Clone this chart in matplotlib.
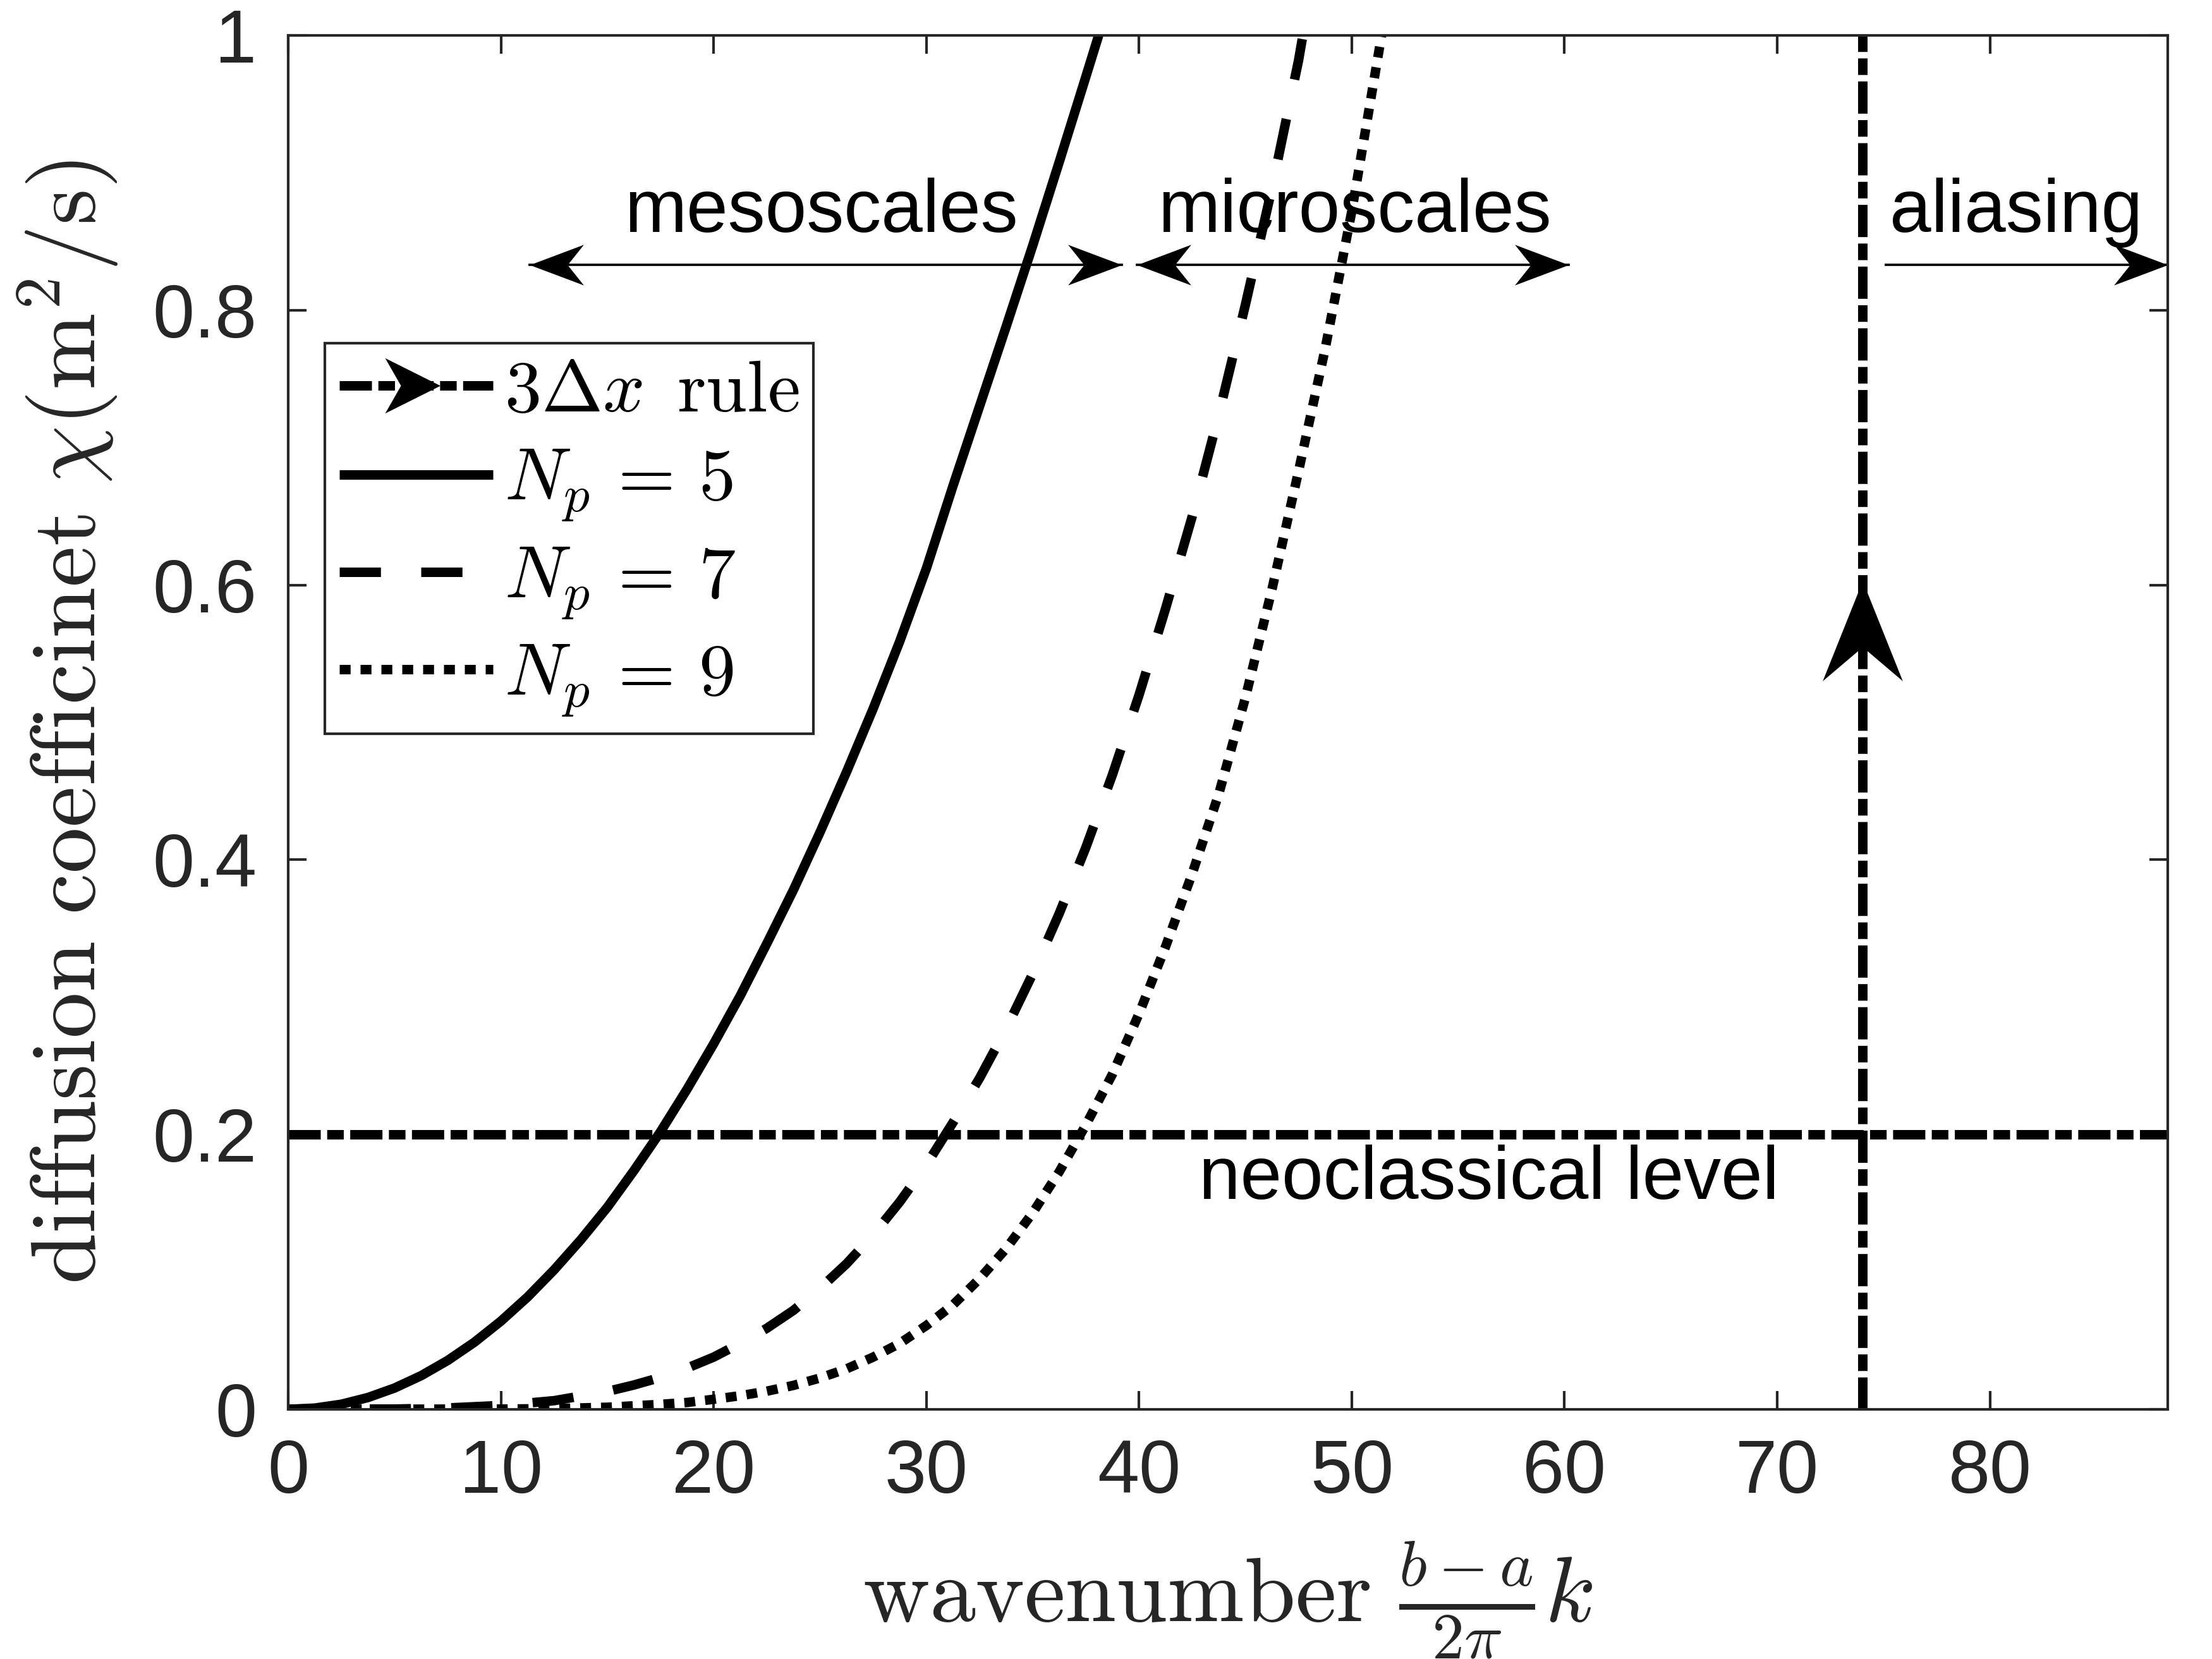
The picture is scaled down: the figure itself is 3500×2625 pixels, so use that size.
import numpy as np
import matplotlib
matplotlib.use("Agg")
import matplotlib.pyplot as plt
from matplotlib.path import Path
from matplotlib.lines import Line2D

# ---------------- data ----------------
k_np5 = [0, 1.25, 2.5, 3.75, 5, 6.25, 7.5, 8.75, 10, 11.25, 12.5, 13.75, 15, 16.25,
         17.5, 18.75, 20, 21.25, 22.5, 23.75, 25, 26.25, 27.5, 28.75, 30, 31.25,
         32.5, 33.75, 35, 36.25, 37.5, 38.1]
chi_np5 = [0, 0.0009, 0.0037, 0.0086, 0.0155, 0.0245, 0.0356, 0.0488, 0.0642, 0.0817,
           0.1015, 0.1233, 0.147, 0.1737, 0.202, 0.233, 0.266, 0.301, 0.339, 0.378,
           0.42, 0.464, 0.51, 0.559, 0.612, 0.672, 0.73, 0.788, 0.847, 0.908, 0.97, 1.0]

k_np7 = [0, 5, 7.5, 10, 12.5, 15, 16.25, 17.5, 18.75, 20, 21.25, 22.5, 23.75, 25,
         26.25, 27.5, 28.75, 30, 31.25, 32.5, 33.75, 35, 36.25, 37.5, 38.75, 40,
         41.25, 42.5, 43.75, 45, 46.25, 47.5, 47.7]
chi_np7 = [0, 0.0002, 0.001, 0.0028, 0.0063, 0.013, 0.0177, 0.0232, 0.030, 0.038,
           0.048, 0.059, 0.072, 0.088, 0.106, 0.127, 0.151, 0.178, 0.2087, 0.241,
           0.277, 0.317, 0.361, 0.409, 0.462, 0.520, 0.583, 0.650, 0.724, 0.804,
           0.889, 0.982, 1.0]

k_np9 = [0, 10, 12.5, 15, 17.5, 18.75, 20, 21.25, 22.5, 23.75, 25, 26.25, 27.5, 28.75,
         30, 31.25, 32.5, 33.75, 35, 36.25, 37.5, 38.75, 40, 41.25, 42.5, 43.75, 45,
         46.25, 47.5, 48.75, 50, 51.4]
chi_np9 = [0, 0.0002, 0.0005, 0.0015, 0.0036, 0.005, 0.0073, 0.0099, 0.0132, 0.0174,
           0.0228, 0.0295, 0.038, 0.048, 0.061, 0.076, 0.095, 0.117, 0.143, 0.173,
           0.207, 0.244, 0.288, 0.337, 0.39, 0.448, 0.518, 0.597, 0.683, 0.772,
           0.872, 1.0]

series_labels = [r'$N_p\,=\,5$', r'$N_p\,=\,7$', r'$N_p\,=\,9$']
rule_label = r'$3\Delta x\ \,\mathrm{rule}$'

neo_level = 0.2            # neoclassical level
rule_k = 74.0              # 3 dx rule wavenumber
rule_arrow_chi = 0.603     # arrow tip on the rule line

meso_span = (11.35, 39.2)
micro_span = (39.9, 60.2)
alias_span = (75.1, 88.36)
span_chi = 0.833

x_ticks = [0, 10, 20, 30, 40, 50, 60, 70, 80]
y_ticks = [0, 0.2, 0.4, 0.6, 0.8, 1.0]
y_ticklabels = ['0', '0.2', '0.4', '0.6', '0.8', '1']
x_max = 88.36

# ---------------- style ----------------
plt.rcParams['mathtext.fontset'] = 'cm'
plt.rcParams['font.family'] = ['Liberation Sans', 'DejaVu Sans']
plt.rcParams['axes.unicode_minus'] = False

LW = 3.6
DASH = (0, (4.35, 4.25))
DOT = (0, (1.15, 1.05))
DASHDOT = (0, (3.4, 0.68, 1.75, 0.68))
AX_COLOR = '#262626'
CODES = [Path.MOVETO, Path.LINETO, Path.LINETO, Path.LINETO, Path.CLOSEPOLY]


def head_path(direction, halfw, notch):
    """notched arrow head with its tip at the reference point"""
    if direction == 'right':
        v = [(0, 0), (-1, halfw), (-notch, 0), (-1, -halfw), (0, 0)]
    elif direction == 'left':
        v = [(0, 0), (1, halfw), (notch, 0), (1, -halfw), (0, 0)]
    else:  # up
        v = [(0, 0), (-halfw, -1), (0, -notch), (halfw, -1), (0, 0)]
    return Path(v, CODES)


right_head = head_path('right', 0.376, 0.70)
left_head = head_path('left', 0.376, 0.70)
rule_head = head_path('up', 0.40, 0.66)
# legend arrow (tip right of the handle centre), units in points
legend_head = Path([(9.0, 0), (-12.0, 10.5), (-6.0, 0), (-12.0, -10.5), (9.0, 0)], CODES)

fig = plt.figure(figsize=(3500 / 300, 2625 / 300), dpi=300)
ax = fig.add_axes([0.1303, 0.1505, 0.8497, 0.8282])

# curves
l5, = ax.plot(k_np5, chi_np5, color='k', lw=LW, linestyle='-', solid_capstyle='butt',
              solid_joinstyle='round')
l7, = ax.plot(k_np7, chi_np7, color='k', lw=LW, linestyle=DASH, dash_capstyle='butt')
l9, = ax.plot(k_np9, chi_np9, color='k', lw=LW, linestyle=DOT, dash_capstyle='butt')

# neoclassical level
ax.axhline(neo_level, color='k', lw=LW, linestyle=DASHDOT, dash_capstyle='butt')
# 3 dx rule line with arrow
ax.axvline(rule_k, color='k', lw=LW, linestyle=DASHDOT, dash_capstyle='butt')
ax.plot([rule_k], [rule_arrow_chi], linestyle='none', marker=rule_head, ms=76,
        mfc='k', mec='k', mew=0)

# scale arrows
ARW_LW = 0.9
HEAD_MS = 41
for (a, b), double in [(meso_span, True), (micro_span, True), (alias_span, False)]:
    ax.plot([a, b], [span_chi, span_chi], color='k', lw=ARW_LW, clip_on=False)
    ax.plot([b], [span_chi], linestyle='none', marker=right_head, ms=HEAD_MS,
            mfc='k', mec='k', mew=0, clip_on=False)
    if double:
        ax.plot([a], [span_chi], linestyle='none', marker=left_head, ms=HEAD_MS,
                mfc='k', mec='k', mew=0, clip_on=False)

TXT = 28.3
ax.text(15.8, 0.857, 'mesoscales', fontsize=TXT, ha='left', va='baseline')
ax.text(40.9, 0.857, 'microscales', fontsize=TXT, ha='left', va='baseline')
ax.text(75.3, 0.857, 'aliasing', fontsize=TXT, ha='left', va='baseline')
ax.text(42.8, 0.153, 'neoclassical level', fontsize=TXT, ha='left', va='baseline')

# axes
ax.set_xlim(0, x_max)
ax.set_ylim(0, 1)
ax.set_xticks(x_ticks)
ax.set_yticks(y_ticks)
ax.set_yticklabels(y_ticklabels)
ax.tick_params(direction='in', length=7, width=1.0, colors=AX_COLOR,
               labelsize=28.5, top=True, right=True, pad=11)
ax.tick_params(axis='y', pad=12)
for s in ax.spines.values():
    s.set_color(AX_COLOR)
    s.set_linewidth(1.0)

ax.set_xlabel(r'$\mathrm{wavenumber}\ \frac{b-a}{2\pi}k$', fontsize=35, color=AX_COLOR)
ax.set_ylabel(r'$\mathrm{diffusion\ coefficinet}\ \chi(\mathrm{m}^2/\mathrm{s})$',
              fontsize=35, color=AX_COLOR)
ax.xaxis.set_label_coords(0.5, -0.095)
ax.yaxis.set_label_coords(-0.089, 0.5)

# legend
rule_handle = Line2D([], [], color='k', lw=LW, linestyle=DASHDOT, dash_capstyle='butt',
                     marker=legend_head, ms=24, mfc='k', mec='k', mew=0)
leg = ax.legend([rule_handle, l5, l7, l9], [rule_label] + series_labels,
                loc='upper left', bbox_to_anchor=(0.0195, 0.776), borderaxespad=0,
                fontsize=28, handlelength=2.08, handletextpad=0.15, labelspacing=0.27,
                borderpad=0.2, fancybox=False, framealpha=1, edgecolor=AX_COLOR,
                numpoints=1)
leg.get_frame().set_linewidth(1.0)

fig.savefig('out.png', dpi=300)
